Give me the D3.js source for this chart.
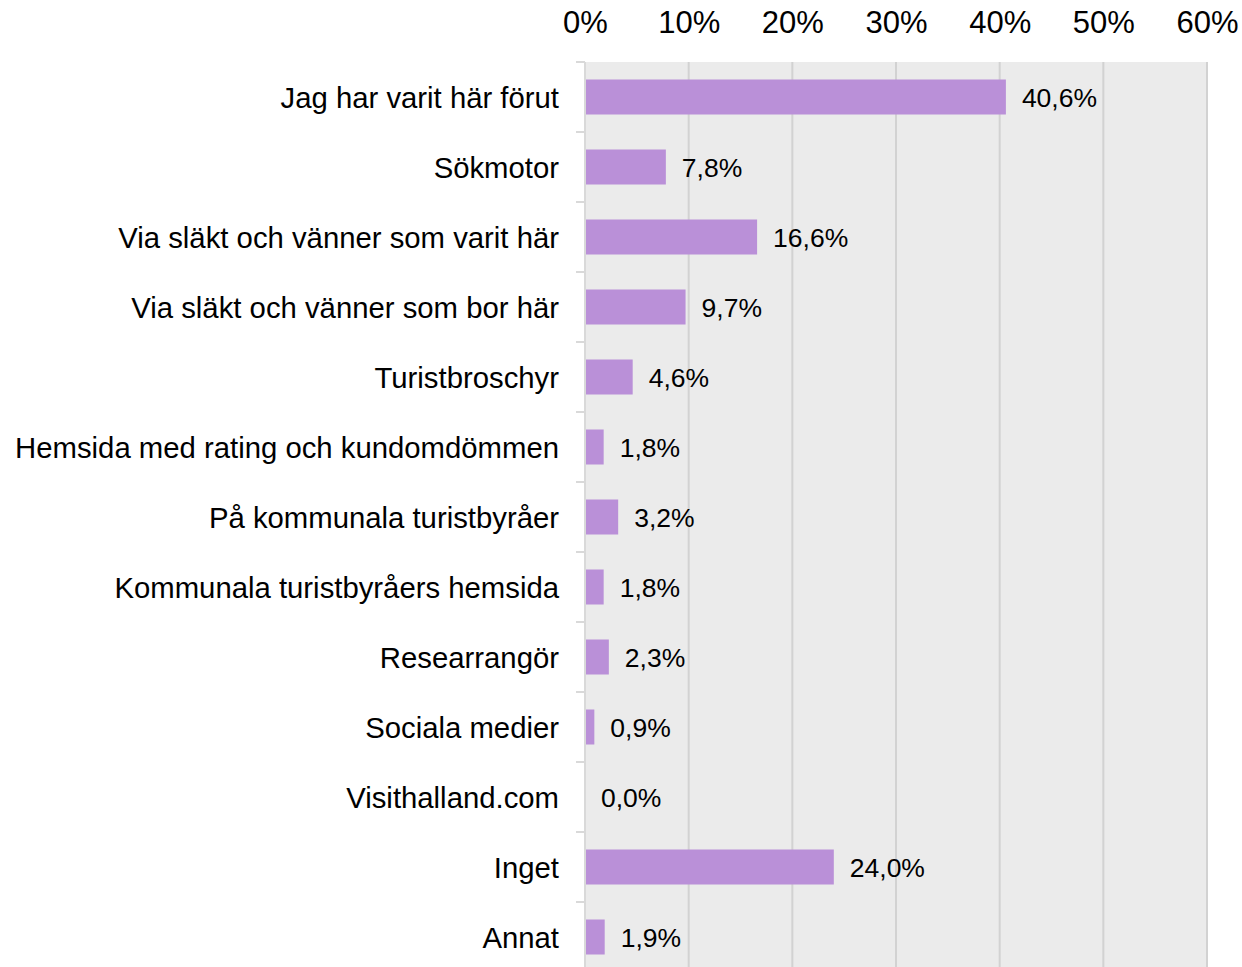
<!DOCTYPE html>
<html>
<head>
<meta charset="utf-8">
<script src="https://cdn.jsdelivr.net/npm/d3@7"></script>
<style>
  body { margin: 0; background: #fff; }
  svg { display: block; font-family: "Liberation Sans", Arial, sans-serif; }
</style>
</head>
<body>
<div id="chart"></div>
<script>
const categories = [
  "Jag har varit här förut",
  "Sökmotor",
  "Via släkt och vänner som varit här",
  "Via släkt och vänner som bor här",
  "Turistbroschyr",
  "Hemsida med rating och kundomdömmen",
  "På kommunala turistbyråer",
  "Kommunala turistbyråers hemsida",
  "Researrangör",
  "Sociala medier",
  "Visithalland.com",
  "Inget",
  "Annat"
];
const values = [40.6, 7.8, 16.6, 9.7, 4.6, 1.8, 3.2, 1.8, 2.3, 0.9, 0.0, 24.0, 1.9];
const xTicks = [0, 10, 20, 30, 40, 50, 60];

const W = 1242, H = 967;
const margin = { top: 62, left: 585, right: 35 };
const bandH = 70;
const plotW = W - margin.left - margin.right;
const plotH = bandH * categories.length;

const svg = d3.select("#chart").append("svg")
  .attr("width", W)
  .attr("height", H);

const g = svg.append("g")
  .attr("transform", `translate(${margin.left},${margin.top})`);

const x = d3.scaleLinear().domain([0, 60]).range([0, plotW]);
const y = d3.scaleBand().domain(categories).range([0, plotH]).paddingInner(0.5).paddingOuter(0.25);

// plot background
g.append("rect")
  .attr("width", plotW)
  .attr("height", plotH)
  .attr("fill", "#ebebeb");

// vertical gridlines
g.selectAll(".grid")
  .data(xTicks.slice(1))
  .enter()
  .append("line")
  .attr("x1", d => x(d))
  .attr("x2", d => x(d))
  .attr("y1", 0)
  .attr("y2", plotH)
  .attr("stroke", "#d2d2d2")
  .attr("stroke-width", 2);

// top axis labels
const xAxis = g.append("g")
  .call(d3.axisTop(x).tickValues(xTicks).tickFormat(d => d + "%").tickSize(0).tickPadding(29));
xAxis.select(".domain").remove();
xAxis.selectAll("text")
  .attr("font-size", "31px")
  .attr("fill", "#000")
  .attr("font-family", "Liberation Sans, Arial, sans-serif");

// bars
g.selectAll(".bar")
  .data(values)
  .enter()
  .append("rect")
  .attr("class", "bar")
  .attr("x", 0)
  .attr("y", (d, i) => y(categories[i]))
  .attr("width", d => x(d))
  .attr("height", y.bandwidth())
  .attr("fill", "#ba90d8");

// value labels
g.selectAll(".val")
  .data(values)
  .enter()
  .append("text")
  .attr("class", "val")
  .attr("x", d => x(d) + 16)
  .attr("y", (d, i) => y(categories[i]) + y.bandwidth() / 2)
  .attr("dy", "0.36em")
  .attr("font-size", "26.5px")
  .attr("fill", "#000")
  .text(d => d.toFixed(1).replace(".", ",") + "%");

// left axis line and ticks at band boundaries
g.append("line")
  .attr("x1", 0).attr("x2", 0)
  .attr("y1", 0).attr("y2", plotH)
  .attr("stroke", "#d9d9d9")
  .attr("stroke-width", 2);

g.selectAll(".btick")
  .data(d3.range(categories.length + 1))
  .enter()
  .append("line")
  .attr("x1", -9).attr("x2", 0)
  .attr("y1", i => i * bandH)
  .attr("y2", i => i * bandH)
  .attr("stroke", "#d9d9d9")
  .attr("stroke-width", 2);

// category labels
g.selectAll(".cat")
  .data(categories)
  .enter()
  .append("text")
  .attr("class", "cat")
  .attr("x", -26)
  .attr("y", d => y(d) + y.bandwidth() / 2)
  .attr("dy", "0.36em")
  .attr("text-anchor", "end")
  .attr("font-size", "29.3px")
  .attr("fill", "#000")
  .text(d => d);
</script>
</body>
</html>
